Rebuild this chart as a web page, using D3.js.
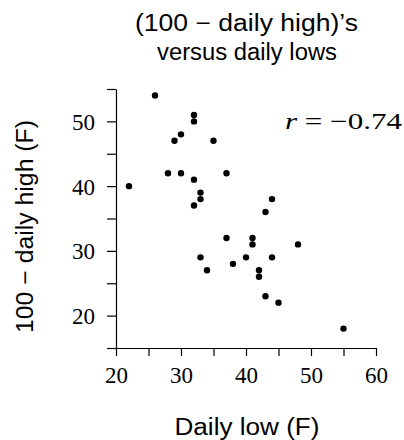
<!DOCTYPE html>
<html>
<head>
<meta charset="utf-8">
<script src="https://cdn.jsdelivr.net/npm/d3@7"></script>
<style>
  html, body { margin: 0; padding: 0; background: #fff; }
  svg { display: block; }
  .serif { font-family: 'Liberation Serif', 'DejaVu Serif', serif; }
  .sans { font-family: 'Liberation Sans', 'DejaVu Sans', sans-serif; }
</style>
</head>
<body>
<svg id="chart" width="404" height="440"></svg>
<script>
// Daily lows (F) and the matching 100 − daily high values (F)
const dailyLow = [26, 32, 32, 30, 29, 35, 28, 30, 37, 22, 32, 33, 33, 32, 44,
                  43, 37, 41, 41, 48, 33, 40, 44, 38, 34, 42, 42, 43, 45, 55];
const hundredMinusHigh = [54, 51, 50, 48, 47, 47, 42, 42, 42, 40, 41, 39, 38, 37, 38,
                          36, 32, 32, 31, 31, 29, 29, 29, 28, 27, 27, 26, 23, 22, 18];
const xTicks = [20, 25, 30, 35, 40, 45, 50, 55, 60];
const yTicks = [15, 20, 25, 30, 35, 40, 45, 50, 55];
const xLabelled = [20, 30, 40, 50, 60];
const yLabelled = [20, 30, 40, 50];
const titleLines = ["(100 − daily high)’s", "versus daily lows"];
const xTitle = "Daily low (F)";
const yTitle = "100 − daily high (F)";
const corrText = "−0.74";

const svg = d3.select("#chart");

const x = d3.scaleLinear().domain([20, 60]).range([116, 376]);
const y = d3.scaleLinear().domain([15, 55]).range([348, 89]);

// Bottom axis
const gx = svg.append("g")
  .attr("transform", `translate(0,${y(15)})`)
  .call(d3.axisBottom(x).tickValues(xTicks).tickSize(8).tickSizeOuter(0)
    .tickFormat(d => xLabelled.includes(d) ? d : ""));
gx.attr("font-family", null).attr("font-size", null);
gx.select(".domain").attr("stroke", "#000").attr("stroke-width", 1.2);
gx.selectAll(".tick line").attr("stroke", "#000").attr("stroke-width", 1.2);
gx.selectAll(".tick text")
  .attr("class", "serif")
  .attr("y", 35).attr("dy", 0)
  .style("font-size", "23px").attr("fill", "#000");

// Left axis
const gy = svg.append("g")
  .attr("transform", `translate(${x(20)},0)`)
  .call(d3.axisLeft(y).tickValues(yTicks).tickSize(9).tickSizeOuter(0)
    .tickFormat(d => yLabelled.includes(d) ? d : ""));
gy.attr("font-family", null).attr("font-size", null);
gy.select(".domain").attr("stroke", "#000").attr("stroke-width", 1.2);
gy.selectAll(".tick line").attr("stroke", "#000").attr("stroke-width", 1.2);
gy.selectAll(".tick text")
  .attr("class", "serif")
  .attr("x", -21).attr("dy", 8)
  .style("font-size", "23px").attr("fill", "#000");

// Points
svg.append("g").selectAll("circle")
  .data(dailyLow.map((d, i) => [d, hundredMinusHigh[i]]))
  .join("circle")
  .attr("cx", d => x(d[0]))
  .attr("cy", d => y(d[1]))
  .attr("r", 3.2)
  .attr("fill", "#000");

// Title
const titleSpec = [
  { text: titleLines[0], cx: 246.5, base: 31, w: 223 },
  { text: titleLines[1], cx: 247, base: 60, w: 180 }
];
titleSpec.forEach(t => {
  svg.append("text")
    .attr("class", "sans")
    .attr("x", t.cx).attr("y", t.base)
    .attr("text-anchor", "middle")
    .style("font-size", "23px").attr("fill", "#000")
    .attr("textLength", t.w).attr("lengthAdjust", "spacingAndGlyphs")
    .text(t.text);
});

// Axis titles
svg.append("text")
  .attr("class", "sans")
  .attr("x", 247).attr("y", 435)
  .attr("text-anchor", "middle")
  .style("font-size", "23px").attr("fill", "#000")
  .attr("textLength", 145).attr("lengthAdjust", "spacingAndGlyphs")
  .text(xTitle);

svg.append("text")
  .attr("class", "sans")
  .attr("transform", "translate(33,226.5) rotate(-90)")
  .attr("text-anchor", "middle")
  .style("font-size", "23px").attr("fill", "#000")
  .attr("textLength", 213).attr("lengthAdjust", "spacingAndGlyphs")
  .text(yTitle);

// Correlation annotation
const corr = svg.append("text")
  .attr("class", "serif")
  .attr("x", 285).attr("y", 128.5)
  .style("font-size", "23px").attr("fill", "#000")
  .attr("textLength", 117).attr("lengthAdjust", "spacingAndGlyphs");
corr.append("tspan").attr("font-style", "italic").text("r");
corr.append("tspan").text(" = " + corrText);
</script>
</body>
</html>
